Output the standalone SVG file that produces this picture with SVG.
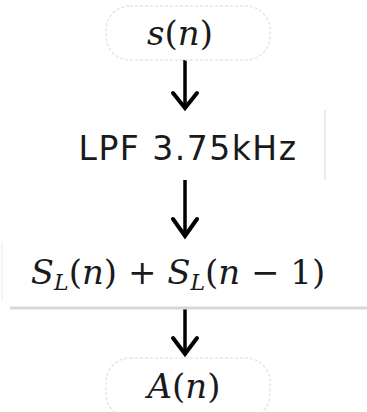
<svg xmlns="http://www.w3.org/2000/svg" width="367" height="412" viewBox="0 0 367 412">
<defs>
<style>
.term{fill:#fff;stroke:#e6e6e6;stroke-width:1.5;stroke-dasharray:3 2}
.math{font-family:"DejaVu Serif","Liberation Serif",serif;font-style:italic;font-size:34px;fill:#1a1a1a;text-anchor:middle}
.up{font-style:normal}
.sans{font-family:"DejaVu Sans","Liberation Sans",sans-serif;font-size:33px;fill:#1a1a1a;text-anchor:middle;letter-spacing:1.5px}
.conn{stroke:#000;stroke-width:3.5;fill:none}
.head{stroke:#000;stroke-width:4;fill:none;stroke-linecap:round;stroke-linejoin:miter}
</style>
</defs>
<rect width="367" height="412" fill="#fff"/>
<g id="connectors">
<line class="conn" x1="185" y1="60" x2="185" y2="108"/>
<polyline class="head" points="173,93 185,108 197,93"/>
<line class="conn" x1="185" y1="180" x2="185" y2="236"/>
<polyline class="head" points="173,219 185,236 197,219"/>
<line class="conn" x1="185" y1="309" x2="185" y2="354"/>
<polyline class="head" points="173,338 185,354 197,338"/>
</g>
<g id="node-s">
<rect class="term" x="106" y="6" width="164" height="54" rx="24"/>
<text class="math" x="180" y="45">s<tspan class="up">(</tspan>n<tspan class="up">)</tspan></text>
</g>
<g id="node-lpf">
<line x1="325" y1="110" x2="325" y2="180" stroke="#ebebeb" stroke-width="2"/>
<text class="sans" x="188" y="160">LPF 3.75kHz</text>
</g>
<g id="node-sum">
<line x1="2" y1="242" x2="2" y2="300" stroke="#f0f0f0" stroke-width="1.5"/>
<line x1="10" y1="308" x2="367" y2="308" stroke="#d8d8d8" stroke-width="3"/>
<text class="math" x="178" y="284">S<tspan font-size="22" dy="6">L</tspan><tspan class="up" dy="-6">(</tspan>n<tspan class="up">) + </tspan>S<tspan font-size="22" dy="6">L</tspan><tspan class="up" dy="-6">(</tspan>n<tspan class="up"> − 1)</tspan></text>
</g>
<g id="node-a">
<rect class="term" x="106" y="358" width="164" height="60" rx="24"/>
<text class="math" x="184" y="398">A<tspan class="up">(</tspan>n<tspan class="up">)</tspan></text>
</g>
</svg>
